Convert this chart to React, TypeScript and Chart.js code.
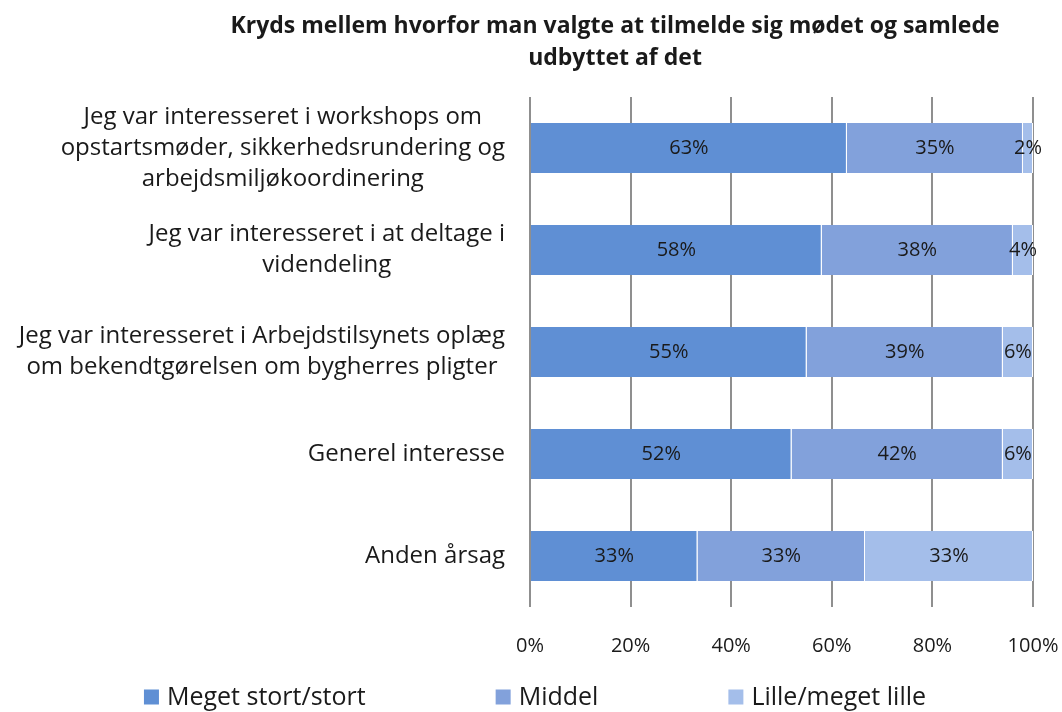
import React, { useEffect, useRef } from 'react';
import { Chart, registerables } from 'chart.js';

Chart.register(...registerables);

const titleLines = ['Kryds mellem hvorfor man valgte at tilmelde sig mødet og samlede', 'udbyttet af det'];
const categories = [
  ['Jeg var interesseret i workshops om', 'opstartsmøder, sikkerhedsrundering og', 'arbejdsmiljøkoordinering'],
  ['Jeg var interesseret i at deltage i', 'videndeling'],
  ['Jeg var interesseret i Arbejdstilsynets oplæg', 'om bekendtgørelsen om bygherres pligter'],
  ['Generel interesse'],
  ['Anden årsag'],
];
const seriesNames = ['Meget stort/stort', 'Middel', 'Lille/meget lille'];
const megetStort = [63, 58, 55, 52, 33.3];
const middel = [35, 38, 39, 42, 33.3];
const lille = [2, 4, 6, 6, 33.4];
const xTickValues = [0, 20, 40, 60, 80, 100];
const seriesColors = ['#5F8FD4', '#82A1DB', '#A4BEEA'];

const FONT = '"Open Sans"';
const TEXT = '#1a1a1a';

const drawPlugin = {
  id: 'customText',
  afterDraw(chart: any) {
    const ctx = chart.ctx as CanvasRenderingContext2D;
    const area = chart.chartArea;
    const yScale = chart.scales.y;
    ctx.save();
    ctx.fillStyle = TEXT;
    ctx.textBaseline = 'middle';

    // title
    ctx.font = `bold 23px ${FONT}`;
    ctx.textAlign = 'center';
    titleLines.forEach((t, i) => ctx.fillText(t, 615, 26 + i * 32));

    // category labels
    ctx.font = `24px ${FONT}`;
    categories.forEach((lines, i) => {
      const yc = yScale.getPixelForValue(i);
      const maxW = Math.max(...lines.map((l) => ctx.measureText(l).width));
      const cx = area.left - 25 - maxW / 2;
      const lh = 31;
      lines.forEach((l, j) => {
        ctx.fillText(l, cx, yc + (j - (lines.length - 1) / 2) * lh);
      });
    });

    // data labels
    ctx.font = `20px ${FONT}`;
    chart.data.datasets.forEach((ds: any, di: number) => {
      const meta = chart.getDatasetMeta(di);
      meta.data.forEach((el: any, i: number) => {
        const v = ds.data[i];
        const x = (el.x + el.base) / 2;
        ctx.fillText(Math.round(v) + '%', x, el.y);
      });
    });

    // legend
    ctx.font = `25px ${FONT}`;
    const box = 15;
    const gapBox = 8;
    const gapItems = 130;
    const widths = seriesNames.map((n) => box + gapBox + ctx.measureText(n).width);
    const total = widths.reduce((a, b) => a + b, 0) + gapItems * (seriesNames.length - 1);
    let x = 535 - total / 2;
    const ly = 697;
    ctx.textAlign = 'left';
    seriesNames.forEach((n, i) => {
      ctx.fillStyle = seriesColors[i];
      ctx.fillRect(x, ly - box / 2, box, box);
      ctx.fillStyle = TEXT;
      ctx.fillText(n, x + box + gapBox, ly + 1);
      x += widths[i] + gapItems;
    });
    ctx.restore();
  },
};

export default function App() {
  const ref = useRef<HTMLCanvasElement | null>(null);
  useEffect(() => {
    if (!ref.current) return;
    const seriesData = [megetStort, middel, lille];
    const chart = new Chart(ref.current, {
      type: 'bar',
      data: {
        labels: categories.map((c) => c.join(' ')),
        datasets: seriesNames.map((name, i) => ({
          label: name,
          data: seriesData[i],
          backgroundColor: seriesColors[i],
          borderColor: '#ffffff',
          borderWidth: { left: 0, right: 1, top: 0, bottom: 0 },
          borderSkipped: false,
          barPercentage: 0.49,
          categoryPercentage: 1,
        })),
      },
      options: {
        indexAxis: 'y',
        responsive: false,
        animation: false,
        layout: { padding: { left: 0, right: 29, top: 97, bottom: 0 } },
        plugins: {
          legend: { display: false },
          title: { display: false },
          tooltip: { enabled: false },
        },
        scales: {
          x: {
            stacked: true,
            min: 0,
            max: 100,
            afterFit: (s: any) => { s.height = 105; s.paddingLeft = 0; s.paddingRight = 0; },
            afterBuildTicks: (s: any) => { s.ticks = xTickValues.map((v) => ({ value: v })); },
            ticks: {
              padding: 27,
              color: TEXT,
              font: { family: FONT, size: 20 },
              callback: (v: any) => v + '%',
            },
            grid: { color: '#8f8f8f', lineWidth: 2, drawTicks: false },
            border: { display: false },
          },
          y: {
            stacked: true,
            afterFit: (s: any) => { s.width = 530; },
            ticks: { display: false },
            grid: { display: false },
            border: { display: false },
          },
        },
      },
      plugins: [drawPlugin],
    });
    return () => chart.destroy();
  }, []);
  return (
    <div style={{ position: 'absolute', left: 0, top: 0, width: 1062, height: 712, background: '#fff' }}>
      <canvas ref={ref} width={1062} height={712} style={{ display: 'block' }} />
    </div>
  );
}
